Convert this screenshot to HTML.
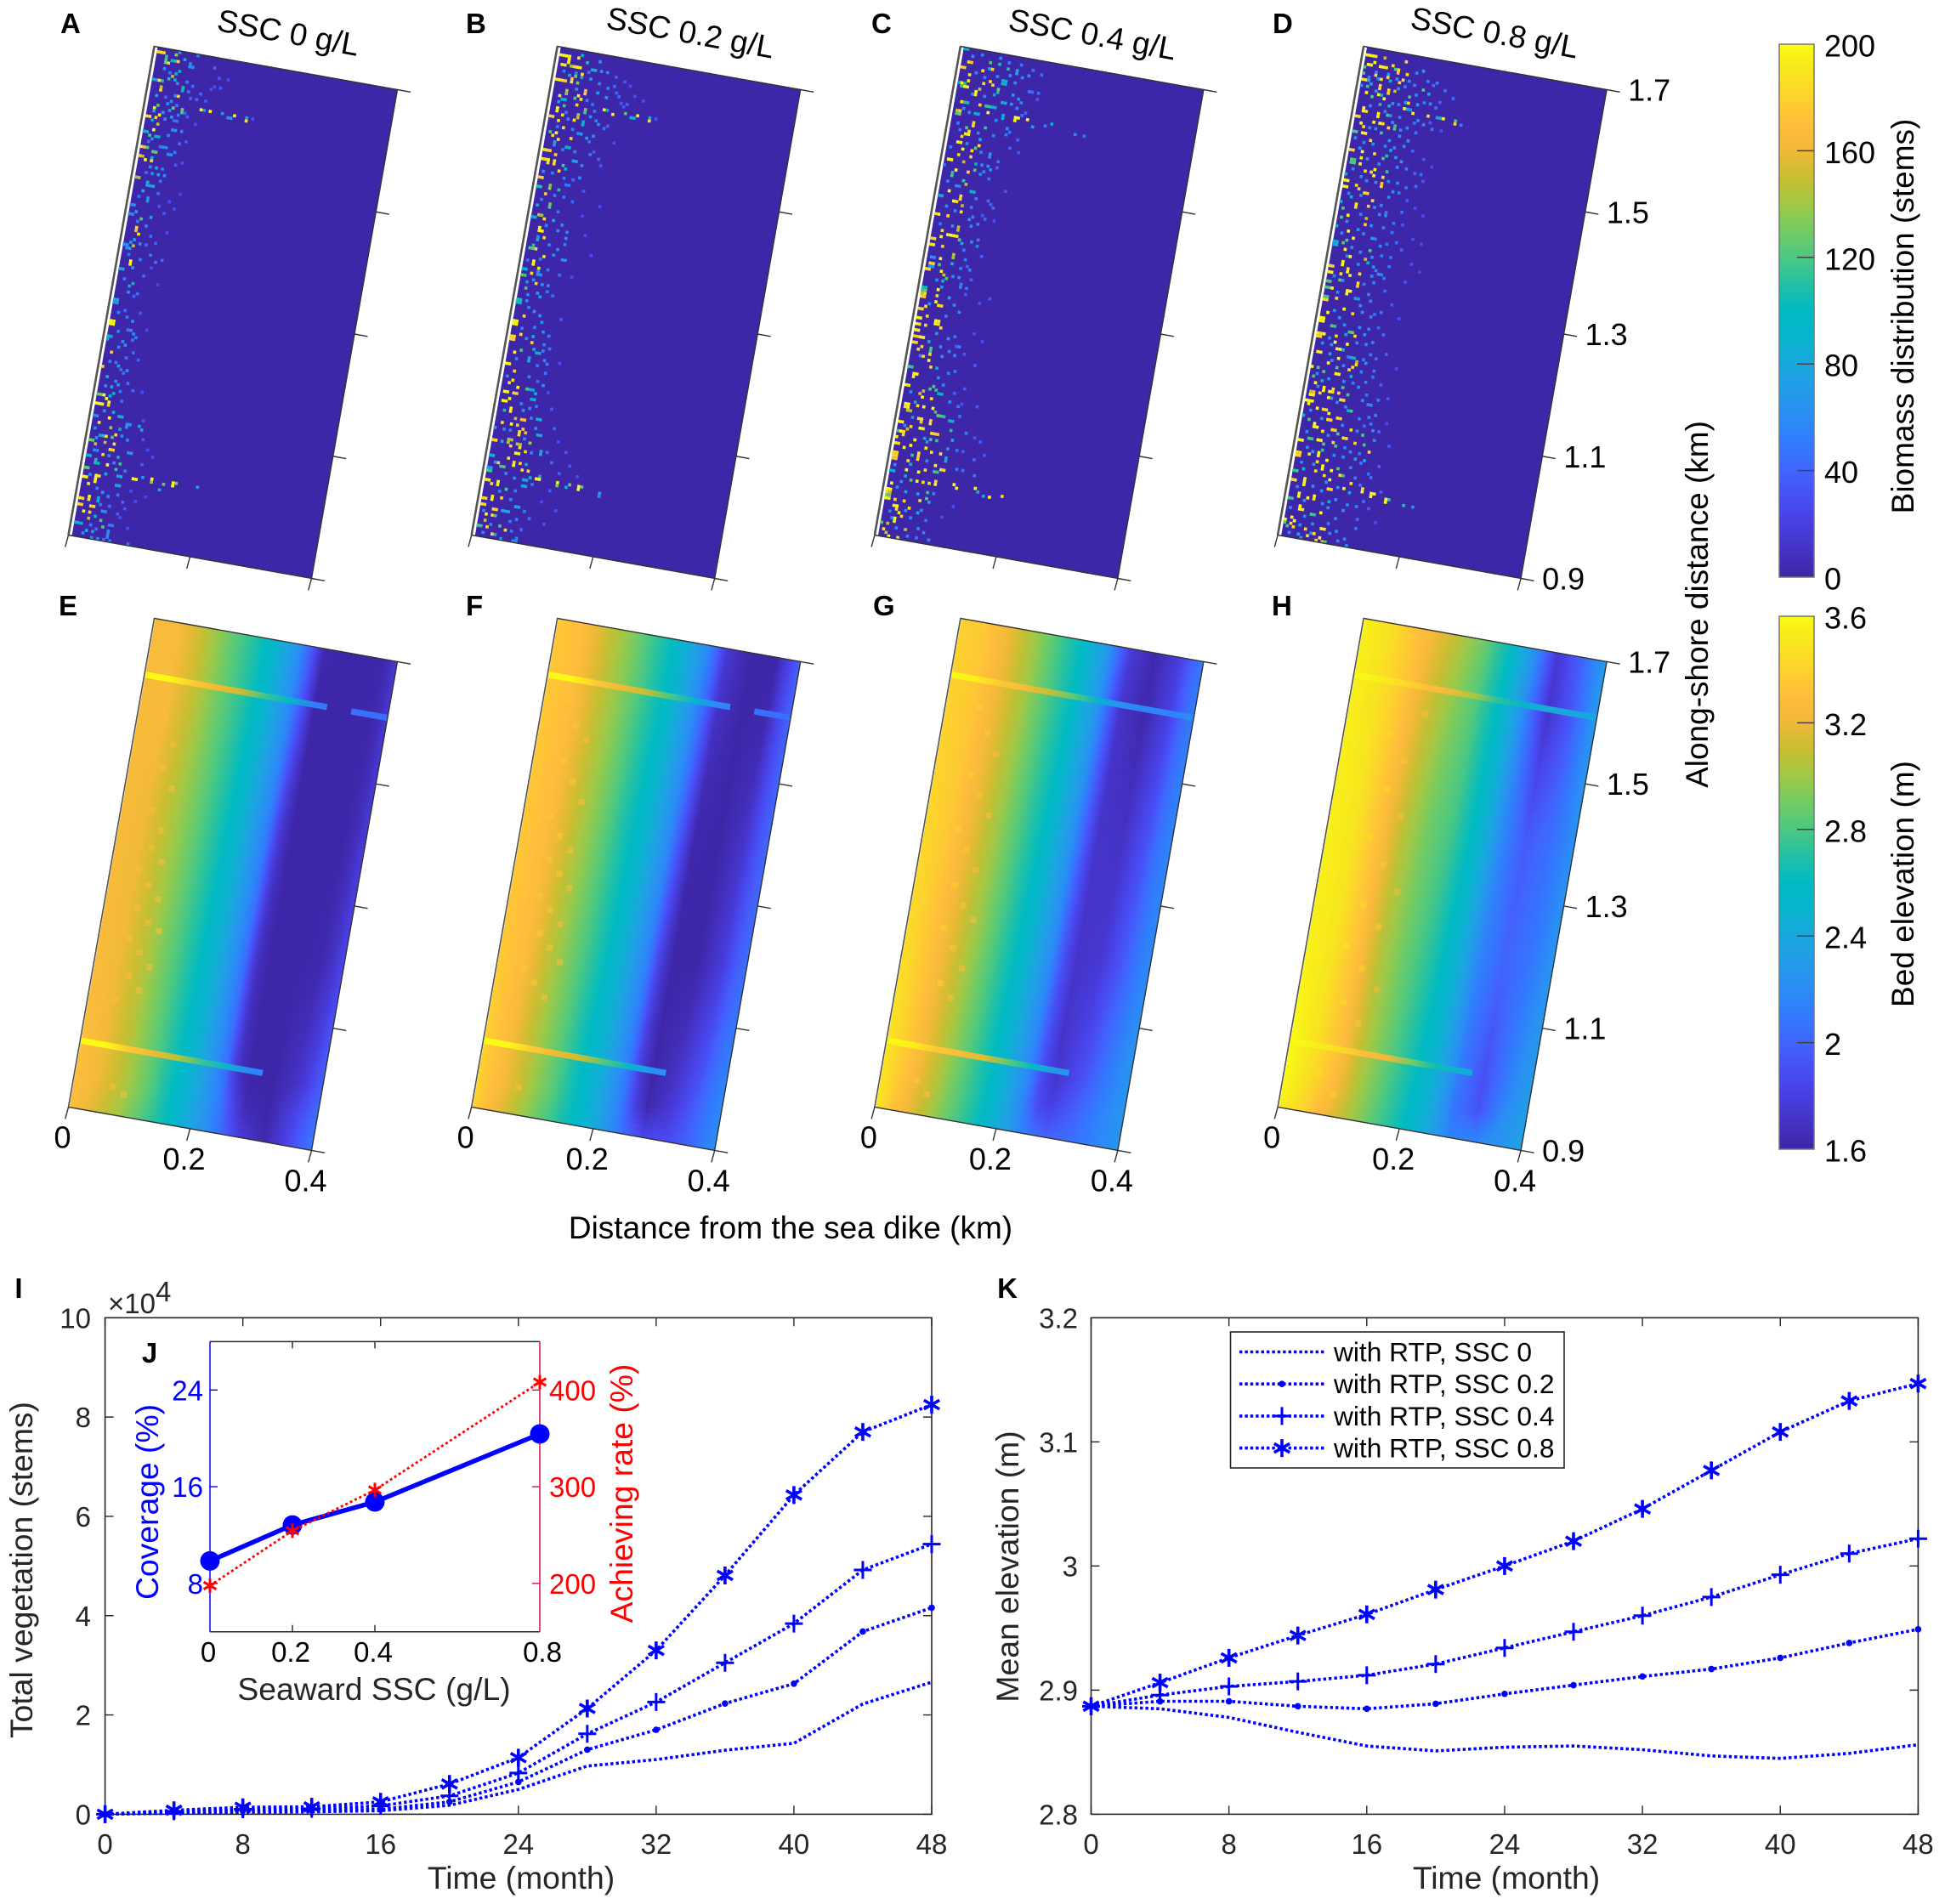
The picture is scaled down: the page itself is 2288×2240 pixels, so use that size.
<!DOCTYPE html>
<html lang="en">
<head>
<meta charset="utf-8">
<title>SSC biomass and bed elevation figure</title>
<style>
html,body{margin:0;padding:0;background:#fff;}
svg{display:block;}
text{font-family:"Liberation Sans",Arial,sans-serif;}
.m{font-size:36px;fill:#000;}
.mt{font-size:37px;fill:#000;}
.b{font-size:33px;font-weight:bold;fill:#000;}
.c{font-size:33px;fill:#262626;}
.t{font-size:37.3px;fill:#262626;}
</style>
</head>
<body>
<svg id="fig" xmlns="http://www.w3.org/2000/svg" width="2288" height="2240" viewBox="0 0 2288 2240">
<defs id="defs"></defs>
<rect width="2288" height="2240" fill="#fff"/>
<g id="maps"></g>
<g id="bars"></g>
<g id="chartI"></g>
<g id="chartJ"></g>
<g id="chartK"></g>

<text class="b" x="71" y="39">A</text>
<text class="b" x="548" y="39">B</text>
<text class="b" x="1025" y="39">C</text>
<text class="b" x="1497" y="39">D</text>
<text class="b" x="69" y="724">E</text>
<text class="b" x="548" y="724">F</text>
<text class="b" x="1027" y="724">G</text>
<text class="b" x="1496" y="724">H</text>
<text class="b" x="22" y="1527" text-anchor="middle">I</text>
<text class="b" x="176" y="1603" text-anchor="middle">J</text>
<text class="b" x="1185" y="1527" text-anchor="middle">K</text>

<text class="mt" text-anchor="middle" transform="translate(339,39) rotate(10.3)" y="12">SSC 0 g/L</text>
<text class="mt" text-anchor="middle" transform="translate(812,39) rotate(10.3)" y="12">SSC 0.2 g/L</text>
<text class="mt" text-anchor="middle" transform="translate(1285,41) rotate(10.3)" y="12">SSC 0.4 g/L</text>
<text class="mt" text-anchor="middle" transform="translate(1758,39) rotate(10.3)" y="12">SSC 0.8 g/L</text>

<text class="mt" x="930" y="1457" text-anchor="middle">Distance from the sea dike (km)</text>
<text class="mt" text-anchor="middle" transform="translate(2009,711) rotate(-90)">Along-shore distance (km)</text>
<text class="mt" text-anchor="middle" transform="translate(2251,372) rotate(-90)">Biomass distribution (stems)</text>
<text class="mt" text-anchor="middle" transform="translate(2251,1040) rotate(-90)">Bed elevation (m)</text>

<text class="t" x="613" y="2222" text-anchor="middle">Time (month)</text>
<text class="t" text-anchor="middle" transform="translate(38,1847) rotate(-90)">Total vegetation (stems)</text>
<text class="c" x="127" y="1545">×10<tspan dy="-14">4</tspan></text>
<text class="t" x="1772" y="2222" text-anchor="middle">Time (month)</text>
<text class="t" text-anchor="middle" transform="translate(1198,1843) rotate(-90)">Mean elevation (m)</text>
<text class="t" x="440" y="2000" text-anchor="middle">Seaward SSC (g/L)</text>
<text class="t" text-anchor="middle" transform="translate(186,1767) rotate(-90)" style="fill:#0000ff">Coverage (%)</text>
<text class="t" text-anchor="middle" transform="translate(744,1757) rotate(-90)" style="fill:#ff0000">Achieving rate (%)</text>
</svg>

<script>
/* ---------- chart data ---------- */
const alongTicks = [1.7, 1.5, 1.3, 1.1, 0.9];
const distTicks = [0, 0.2, 0.4];
const biomassBarTicks = [200, 160, 120, 80, 40, 0];
const bedBarTicks = [3.6, 3.2, 2.8, 2.4, 2, 1.6];

/* biomass cells: [column, row, stems] on the 80x160 grid */
const lowA = [[4,6,60],[6,7,50],[9,10,60],[12,9,55],[14,10,45],[6,15,45],[7,17,60],[8,16,55],[10,17,50],[6,20,70],[7,22,60],[11,20,50],[13,19,40],[3,30,45],[4,29,60],[7,31,50],[13,29,45],[5,38,60],[4,40,45],[9,46,45],[3,48,50],[10,50,35],[4,56,50],[7,57,55],[9,60,45],[6,63,60],[3,67,45],[7,68,50],[9,73,45],[3,75,55],[5,79,60],[3,86,55],[6,87,50],[8,88,60],[4,92,55],[9,92,60],[10,93,55],[5,97,60],[8,100,50],[3,102,55],[6,103,70],[9,104,60],[3,110,60],[10,108,50],[12,110,40],[4,118,60],[7,118,70],[2,124,55],[4,126,70],[13,126,55],[3,127,60],[8,132,60],[10,134,60],[14,136,55],[3,139,60],[6,143,55],[8,144,70],[10,145,60],[13,144,50],[15,146,45],[8,148,50],[11,148,45],[6,155,50],[8,156,45],[14,150,40],[4,158,55],[7,159,60]];
const lowB = [[3,7,55],[7,7,60],[11,6,50],[15,9,55],[18,10,60],[20,9,45],[22,12,45],[25,14,40],[8,12,60],[12,15,55],[14,16,50],[3,17,60],[6,20,55],[7,22,60],[15,18,50],[16,21,55],[19,23,45],[4,25,50],[9,25,55],[15,28,45],[4,31,60],[7,32,50],[11,32,55],[16,32,50],[5,40,55],[9,41,50],[12,41,45],[7,47,55],[10,47,50],[13,48,40],[3,49,50],[9,52,50],[6,57,55],[10,58,60],[4,61,60],[8,63,55],[10,66,60],[6,68,50],[2,69,45],[9,71,50],[13,72,45],[3,76,60],[8,76,60],[12,79,45],[4,80,55],[5,84,55],[7,85,60],[9,86,65],[10,88,60],[4,91,55],[11,91,60],[13,92,55],[6,94,60],[12,95,55],[14,96,50],[4,101,55],[11,102,50],[9,106,55],[14,104,50],[2,107,60],[12,107,45],[8,115,55],[11,116,60],[13,115,50],[9,117,60],[12,119,55],[14,122,60],[4,124,60],[6,124,55],[1,124,60],[11,126,60],[14,130,55],[19,129,45],[21,132,45],[3,135,60],[7,138,60],[10,139,65],[16,140,50],[11,143,55],[6,144,60],[10,146,60],[15,149,50],[17,151,45],[2,151,55],[11,153,50],[5,155,55],[12,156,50],[3,158,55]];
const lowC = [[4,2,60],[7,1,55],[13,1,60],[16,2,55],[20,2,50],[24,3,45],[27,4,45],[6,7,55],[13,7,60],[9,8,55],[19,8,60],[24,10,50],[27,10,45],[6,14,60],[10,14,55],[13,13,60],[19,12,65],[21,16,55],[23,18,50],[4,19,55],[6,20,60],[15,21,55],[19,23,60],[3,24,55],[4,26,50],[10,26,60],[15,26,55],[19,25,50],[21,29,40],[2,32,55],[7,30,60],[12,32,55],[15,32,60],[18,34,50],[13,36,60],[14,38,55],[16,40,50],[1,38,50],[3,43,55],[6,44,60],[7,44,50],[13,47,55],[17,47,45],[19,49,45],[4,51,60],[7,52,55],[12,50,50],[13,56,60],[15,55,55],[17,53,45],[3,57,50],[7,57,60],[14,61,60],[16,60,55],[16,62,55],[12,64,50],[13,67,55],[15,70,55],[12,70,55],[5,75,60],[7,77,65],[10,73,60],[13,75,55],[15,76,50],[12,82,60],[14,84,55],[4,83,60],[10,86,55],[8,92,65],[12,93,60],[14,92,50],[16,95,55],[11,99,60],[15,98,55],[4,100,55],[14,104,55],[16,103,50],[3,112,60],[11,106,60],[13,108,55],[16,113,60],[19,114,50],[5,120,60],[20,117,50],[23,122,50],[21,128,50],[3,123,60],[11,127,70],[18,128,60],[22,134,55],[2,136,60],[12,133,60],[5,141,60],[11,144,65],[16,143,55],[4,143,60],[8,150,60],[10,152,60],[13,149,55],[3,151,55],[15,152,50],[6,156,60],[10,158,55]];
const lowD = [[5,7,60],[9,7,65],[12,8,60],[16,8,60],[18,9,55],[22,7,55],[24,8,50],[3,9,55],[6,9,65],[13,11,60],[15,10,55],[19,12,60],[22,14,55],[26,15,50],[1,12,60],[6,13,70],[12,16,60],[14,16,55],[18,17,60],[5,18,60],[10,19,55],[12,20,60],[15,20,55],[20,21,50],[23,21,55],[26,22,50],[3,24,65],[6,25,60],[8,25,60],[13,22,60],[16,24,60],[18,23,55],[21,24,50],[2,29,60],[5,30,55],[8,30,60],[12,30,55],[15,30,60],[17,36,60],[20,36,55],[23,37,45],[25,37,45],[4,32,60],[7,35,60],[11,36,65],[15,41,55],[17,44,60],[19,44,55],[24,41,45],[3,39,60],[6,41,60],[8,42,55],[11,42,60],[3,47,55],[7,47,65],[12,50,60],[14,49,55],[16,51,50],[21,50,45],[8,53,60],[12,56,60],[16,56,55],[19,57,50],[4,56,60],[8,58,65],[10,59,60],[14,60,55],[18,61,50],[21,60,45],[3,60,60],[7,64,60],[10,65,60],[14,66,55],[17,65,50],[20,68,50],[6,67,60],[10,69,55],[15,69,60],[16,70,55],[18,71,55],[3,74,55],[6,75,60],[13,75,50],[15,78,55],[5,79,60],[11,80,65],[14,84,60],[17,85,55],[20,83,50],[5,85,60],[7,87,65],[9,89,60],[14,89,60],[17,89,55],[5,94,60],[10,92,65],[14,94,60],[17,94,55],[3,96,60],[6,96,70],[12,99,55],[17,99,55],[19,97,50],[7,101,60],[11,102,60],[17,103,55],[21,104,50],[3,106,60],[7,107,65],[12,107,60],[15,107,55],[19,112,60],[21,113,55],[24,111,55],[4,110,60],[11,114,60],[14,115,60],[19,118,55],[23,119,50],[26,121,45],[3,118,60],[7,120,65],[14,121,60],[19,122,55],[3,125,60],[10,125,60],[16,128,60],[18,129,55],[21,129,50],[4,130,60],[6,131,65],[13,131,60],[16,131,60],[22,132,55],[25,135,45],[7,135,60],[19,134,55],[3,135,60],[12,140,60],[16,141,60],[21,137,55],[23,139,55],[8,142,65],[11,143,60],[16,145,60],[20,146,60],[23,146,55],[25,144,50],[3,143,60],[6,147,65],[12,147,60],[14,148,60],[17,151,55],[2,150,60],[7,152,65],[15,153,55],[6,155,60],[10,154,65],[16,156,55],[19,158,55],[3,158,60],[7,159,60],[10,157,60]];
const cellsA = [
[1,1,175],[2,1,175],[3,1,170],[4,2,110],[4,3,120],[4,4,130],[6,3,90],[7,3,110],[8,3,170],[5,4,170],[7,1,140],[8,0,70],[14,0,60],[10,2,80],[12,3,60],[13,4,60],[12,4,70],
[9,6,90],[8,7,90],[7,8,150],[6,9,110],[8,9,80],[1,10,80],[2,10,70],[3,10,175],[4,10,110],[4,12,150],[4,13,170],[3,15,80],[11,11,110],[11,12,100],[10,14,170],[9,14,60],
[13,12,50],[17,12,45],[14,14,40],[4,18,120],[3,19,180],[3,20,90],[9,18,130],[8,19,60],[12,18,130],[12,19,120],[18,17,195],[19,17,80],[21,17,190],[25,17,60],[27,18,65],[28,18,70],[29,17,185],[33,17,90],[33,18,175],[35,17,30],
[1,22,180],[2,22,175],[5,21,175],[4,22,170],[3,23,90],[5,24,150],[4,26,195],[1,27,85],[2,27,90],[3,28,120],[6,28,100],[5,28,95],[11,25,60],[10,25,65],[13,25,55],[9,27,55],[9,21,70],[10,22,45],[11,22,45],
[1,32,175],[2,32,160],[3,32,120],[5,33,125],[6,33,125],[1,35,160],[2,35,150],[3,36,190],[5,35,90],[5,36,175],[9,31,60],[8,31,60],[11,33,60],[10,33,60],[12,32,50],[7,38,80],[8,40,80],[6,40,60],[9,38,55],[10,40,60],
[1,42,140],[2,42,145],[5,43,85],[5,44,80],[7,44,85],[6,44,80],[9,42,50],[4,46,85],[6,48,70],[6,49,70],[1,51,60],[2,51,60],[3,53,70],[1,54,60],[2,54,60],[5,55,120],[8,54,70],[4,58,170],[4,59,160],[5,60,180],
[4,62,70],[3,63,70],[1,64,60],[2,64,60],[4,64,150],[8,63,45],[11,62,40],[10,66,55],[3,65,85],[2,65,60],[12,68,50],[14,67,45],[4,69,190],[4,70,185],[1,72,80],[2,72,80],[5,71,60],[6,76,90],[5,77,70],[8,79,45],[7,80,40],
[1,82,80],[2,82,80],[1,83,70],[2,83,70],[5,85,45],[1,89,195],[2,89,195],[1,90,190],[2,90,190],[7,91,50],[8,91,55],[1,94,85],[2,94,85],[1,95,90],[6,95,60],[7,96,65],[9,94,50],[3,99,170],[10,98,45],[12,100,40],[5,102,50],[7,104,45],[1,104,170],[8,105,50],
[3,107,85],[6,108,60],[7,109,65],[5,110,70],[1,113,125],[2,113,130],[3,113,190],[5,113,90],[6,112,95],[8,111,50],[1,116,195],[2,116,195],[3,116,190],[5,115,190],[5,116,170],[4,114,190],[9,114,45],
[3,122,175],[6,120,195],[7,123,140],[1,120,60],[2,120,55],[9,119,85],[10,119,85],[12,121,60],[13,121,60],[12,122,60],[10,123,85],[16,121,80],[17,122,75],[6,126,180],[5,126,110],[9,125,175],[8,126,120],[11,125,55],
[1,128,130],[2,128,125],[3,129,150],[6,128,150],[9,128,175],[8,130,175],[9,130,170],[14,130,60],[15,130,65],[1,133,85],[2,133,80],[3,131,60],[4,131,55],[6,132,175],[4,134,110],[11,132,80],[4,135,105],[5,135,100],[8,135,190],[12,134,115],[11,136,115],[1,137,130],[2,137,125],[8,138,85],[6,139,175],[12,138,85],[13,138,85],
[1,140,195],[2,140,190],[3,142,180],[5,139,190],[5,140,190],[5,141,185],[12,141,85],[13,141,80],[17,138,195],[18,138,190],[20,137,70],[23,137,190],[23,138,140],[26,140,85],[27,138,125],[30,137,195],[30,138,190],[31,137,130],[38,137,75],
[4,146,185],[4,147,175],[1,147,175],[2,147,170],[1,149,175],[2,149,170],[5,149,170],[6,149,170],[7,146,85],[7,147,80],[9,150,60],[10,150,60],[3,151,195],[5,151,170],[5,153,145],[7,152,85],[9,153,120],[10,155,120],[1,155,85],[2,155,80],[3,155,85],[5,157,85],[7,157,80],[12,156,60],[12,157,60],[12,154,50],[13,154,50],[9,159,55],[12,158,55],[13,159,50],[11,159,50],[19,159,50],
[20,3,40],[22,6,35],[25,6,30],[21,9,30],[23,9,35],[20,10,30],[19,14,35],[16,14,40],[14,20,35],[17,22,30],[15,28,35],[13,36,35],[15,35,30],[16,45,25],[13,48,30],[12,52,35],[15,50,30],[14,58,30],[11,70,30],[14,75,25],[10,85,35],[13,90,30],[15,110,30],[17,119,30],[18,125,35],[20,128,30],[22,130,30],[19,133,35],[17,142,30],[16,148,35],[15,151,30],[19,145,30],[18,154,30],[22,143,25]
];
const cellsB = [
[1,2,190],[2,2,190],[3,2,195],[4,2,185],[7,2,180],[8,1,90],[4,3,190],[4,4,185],[3,5,180],[2,5,180],[5,5,140],[6,5,170],[7,5,190],[8,5,190],[10,3,110],[12,5,90],[13,5,85],[15,5,60],[17,5,60],[14,2,65],
[9,7,180],[7,8,130],[5,8,85],[6,9,170],[9,8,90],[8,10,130],[6,10,175],[12,8,60],[1,10,180],[2,10,185],[3,10,175],[4,10,170],[5,13,150],[5,14,140],[3,15,180],[4,16,90],[5,16,85],[11,12,160],[11,13,170],[9,14,185],[10,15,180],[8,15,120],[15,12,75],[18,13,70],
[3,19,190],[3,20,185],[5,18,120],[9,17,170],[12,18,130],[12,19,120],[10,20,140],[10,21,150],[18,17,195],[19,17,90],[21,18,190],[25,17,120],[27,18,85],[28,18,90],[29,17,185],[33,17,90],[33,18,175],[35,17,35],
[1,22,175],[2,22,170],[4,23,180],[5,21,175],[9,22,175],[12,22,85],[12,23,85],[14,20,60],[17,22,60],[2,27,120],[4,27,190],[6,25,175],[11,26,60],[12,26,65],[14,27,85],[16,26,60],[3,28,175],[5,29,175],[9,28,170],[4,30,85],[8,31,90],[9,31,85],
[1,33,180],[2,33,175],[3,33,170],[5,34,170],[1,36,180],[2,36,175],[3,36,185],[3,37,180],[5,36,180],[5,37,175],[8,37,120],[9,38,100],[7,39,170],[11,35,75],[12,35,70],[14,36,60],[2,40,60],[14,40,60],
[2,42,175],[1,42,170],[1,45,110],[2,45,110],[5,44,130],[5,45,140],[8,45,110],[10,43,50],[11,43,50],[4,47,170],[6,50,130],[6,51,120],[2,51,80],[1,55,85],[2,55,80],[3,54,150],[4,54,140],[5,55,175],[8,55,80],[11,56,60],[13,58,55],
[4,59,195],[5,59,190],[4,58,190],[6,61,170],[4,62,85],[3,64,110],[2,65,120],[3,65,125],[4,65,170],[11,64,60],[13,60,60],[13,62,55],[13,67,60],[14,67,60],[4,69,195],[4,70,190],[7,67,175],
[1,72,100],[2,72,100],[1,74,125],[2,74,120],[4,73,175],[6,71,175],[6,72,65],[7,73,65],[6,73,65],[5,75,60],[6,76,170],[3,78,120],[7,79,75],[8,80,70],[10,76,60],[10,78,55],[1,82,110],[2,82,105],[1,83,100],[2,83,105],[4,82,60],
[1,89,195],[2,89,195],[1,90,195],[2,90,190],[4,87,170],[9,86,60],[8,90,55],[1,94,170],[2,94,175],[1,95,170],[2,95,170],[4,93,175],[8,95,170],[8,93,85],[9,97,85],[10,98,85],[11,98,80],[12,97,55],[3,99,190],[5,98,120],[8,100,80],[8,101,80],[13,100,55],[14,101,55],
[1,103,190],[2,103,185],[4,105,170],[4,108,175],[3,109,175],[6,110,190],[9,110,120],[10,110,100],[11,110,90],[12,111,85],[11,113,85],[12,113,85],[14,108,60],[2,112,190],[3,112,190],[5,112,170],[6,112,170],[4,114,190],[2,115,190],[3,115,195],[5,117,190],[5,118,185],[3,118,110],
[14,119,85],[15,119,80],[9,120,160],[10,120,165],[7,120,150],[6,122,190],[3,122,175],[8,122,165],[10,123,165],[11,124,155],[9,125,180],[9,124,180],[15,124,85],[16,124,80],
[2,128,175],[1,128,170],[6,127,145],[7,127,140],[6,128,150],[9,128,150],[10,128,145],[7,129,170],[10,129,180],[13,127,140],[4,128,85],[17,129,85],[17,130,80],[9,131,195],[10,131,190],[12,130,170],[1,133,85],[2,133,85],[7,133,180],
[4,135,170],[9,134,175],[11,134,175],[13,134,90],[1,137,60],[2,137,70],[1,138,120],[2,138,115],[5,136,120],[6,136,125],[9,135,190],[12,136,175],[14,136,170],[15,138,85],[13,139,85],[14,139,80],[18,137,85],
[2,141,185],[1,141,180],[5,141,190],[5,142,190],[3,142,175],[17,138,195],[18,138,190],[24,138,190],[24,139,130],[27,139,85],[28,138,125],[31,138,195],[31,139,190],[32,138,125],[38,139,70],[38,140,60],[13,141,85],[14,141,80],[8,143,120],
[1,147,175],[2,147,170],[1,149,175],[2,149,170],[4,146,190],[4,147,190],[7,146,170],[5,150,170],[6,150,170],[8,150,80],[9,150,85],[10,150,80],[12,148,85],[13,148,80],[3,152,190],[5,152,175],[3,154,150],[6,152,120],[8,155,120],[10,156,175],[1,156,120],[2,156,115],[4,156,175],[6,158,175],[7,158,80],[14,158,55],[14,159,55],[13,159,60],[9,159,70],[13,152,50],[15,155,45],
[20,6,40],[23,7,35],[25,8,30],[21,11,40],[23,14,35],[27,11,30],[30,12,30],[24,15,35],[20,22,40],[23,27,30],[17,31,35],[19,33,40],[20,35,35],[16,44,35],[22,48,30],[17,52,30],[19,58,30],[22,64,30],[17,72,30],[16,86,35],[18,100,30],[16,110,30],[18,115,35],[20,121,40],[22,125,30],[25,128,35],[27,132,35],[24,135,40],[22,141,35],[20,145,30],[25,147,30],[30,135,30],[22,152,30]
];
const cellsC = [
[1,0,100],[2,0,90],[3,4,175],[4,4,160],[1,6,170],[2,6,170],[4,8,175],[8,6,175],[10,3,120],[11,5,170],[10,5,85],[13,3,110],[16,4,110],[19,4,85],[19,5,75],[23,5,60],[17,6,60],[21,6,60],
[2,11,190],[3,11,110],[3,12,190],[4,10,180],[4,12,195],[2,12,115],[1,11,90],[11,9,175],[9,10,175],[12,10,170],[14,11,130],[14,12,110],[15,8,90],[16,8,85],[15,9,85],[16,9,85],[7,13,190],[7,14,185],[8,12,145],[16,15,85],[17,15,75],[21,13,60],[19,15,60],[22,14,55],
[3,17,175],[4,17,110],[5,17,105],[9,17,170],[11,17,115],[12,17,115],[14,17,90],[2,20,150],[3,20,165],[2,21,120],[3,21,130],[8,20,85],[9,20,75],[12,19,195],[17,19,85],[17,20,85],[13,17,85],[21,19,195],[21,20,190],[22,19,190],[25,19,190],[27,21,80],[33,19,90],[41,21,55],[44,21,50],[31,20,50],
[8,23,170],[8,24,175],[7,26,175],[6,25,120],[12,24,115],[6,27,190],[7,27,185],[5,28,170],[4,30,185],[5,30,180],[11,30,175],[10,31,120],[11,28,85],[9,32,175],[6,32,190],[5,34,170],[9,34,170],[2,36,195],[3,36,190],[7,36,150],[11,36,100],[11,38,120],[13,39,60],[15,36,60],[16,37,65],
[5,39,195],[9,39,175],[4,41,120],[4,40,110],[9,43,150],[8,42,115],[11,45,85],[12,45,85],[4,46,190],[2,48,85],[1,48,80],[8,47,175],[8,48,170],[7,49,175],[6,49,195],[9,50,145],[2,54,190],[1,54,170],[5,54,175],[9,52,175],[12,54,60],[13,53,55],
[9,57,150],[9,58,140],[4,59,175],[10,61,120],[6,60,190],[7,60,195],[8,60,185],[9,60,180],[2,62,175],[1,62,170],[4,61,195],[11,62,85],[2,64,185],[1,64,180],[5,64,170],[9,66,150],[9,67,140],[5,68,190],[9,69,85],[2,68,60],[3,68,60],
[2,70,175],[3,70,170],[2,71,60],[3,71,65],[2,72,170],[1,72,175],[5,70,120],[6,72,190],[7,73,150],[8,74,120],[12,73,60],[13,76,55],[7,75,85],[6,78,190],[1,78,110],[2,78,100],[1,79,120],[2,79,130],[1,80,150],[2,80,175],[1,81,175],[2,81,170],[6,80,175],[6,82,190],[7,83,175],[8,83,170],[3,84,175],[10,80,85],
[2,85,175],[1,85,170],[4,87,170],[7,88,190],[8,88,185],[7,89,190],[8,89,175],[9,90,175],[2,88,190],[1,88,185],[4,90,175],[1,90,190],[2,90,175],[1,92,185],[2,92,190],[3,94,190],[4,94,185],[1,94,170],[2,94,165],[1,96,175],[2,96,170],[4,97,175],[3,98,170],[6,95,85],[7,97,120],[7,98,120],[7,99,175],[5,100,175],[10,96,60],[13,97,55],
[7,101,190],[8,103,170],[10,103,85],[1,104,120],[2,104,115],[3,106,190],[4,106,190],[3,107,185],[1,110,190],[2,110,185],[10,109,120],[11,110,115],[12,111,100],[6,112,150],[7,111,150],[7,113,190],[10,113,175],[13,111,85],[9,110,120],
[2,116,190],[3,116,195],[2,117,170],[3,117,190],[8,116,190],[11,116,190],[6,116,175],[5,115,85],[3,118,150],[4,118,145],[7,120,175],[8,120,185],[8,121,165],[11,120,170],[11,121,175],[12,117,115],[13,118,130],[14,118,120],[15,118,110],[17,119,85],[18,119,80],
[2,122,190],[1,122,185],[5,123,170],[4,124,150],[8,123,190],[9,123,185],[12,124,180],[13,124,170],[14,124,165],[18,122,110],[19,125,85],[1,125,120],[2,125,190],[3,125,175],[3,126,170],[1,127,185],[10,126,85],[12,126,120],[14,126,115],[7,127,190],
[11,129,185],[13,130,175],[9,131,175],[9,132,170],[4,130,190],[6,129,190],[7,132,115],[16,130,175],[18,131,85],[18,132,85],[1,129,175],[2,129,170],[1,132,170],[2,132,175],[1,133,175],[2,133,170],[1,134,160],[2,134,165],[9,133,175],[6,134,170],[15,134,190],[17,135,175],[18,135,170],
[7,135,85],[10,137,190],[12,136,175],[6,137,190],[15,136,120],[16,136,115],[2,138,85],[1,138,85],[16,139,170],[16,140,190],[22,139,195],[23,140,190],[14,140,175],[12,140,175],[10,140,190],[8,140,120],[6,139,85],[29,139,195],[30,140,85],[32,141,80],[34,141,195],[38,140,175],[2,142,190],
[1,144,190],[2,144,185],[1,145,170],[2,145,150],[1,146,130],[2,146,120],[1,147,190],[2,147,185],[4,147,170],[7,144,85],[7,147,170],[4,149,185],[5,149,190],[5,150,175],[6,151,180],[9,149,175],[14,143,115],[14,145,120],[12,146,175],[15,146,85],[12,150,85],
[5,153,190],[5,154,185],[1,155,120],[3,155,150],[7,152,170],[2,157,175],[3,158,150],[4,159,190],[7,159,175],[9,156,150],[4,153,60],[13,155,60],[15,156,55],[13,158,50],[17,158,55],
[25,10,40],[27,12,35],[24,17,40],[20,24,50],[23,26,40],[24,30,35],[15,33,60],[18,36,40],[22,43,35],[18,48,40],[16,52,35],[20,53,30],[18,65,40],[14,69,40],[16,73,40],[15,78,35],[20,80,30],[23,78,35],[20,90,30],[23,92,30],[15,95,40],[18,97,35],[22,100,35],[20,108,35],[17,110,40],[20,113,30],[25,113,35],[26,123,35],[23,128,35],[28,124,35],[27,130,40],[30,128,35],[24,134,45],[28,135,50],[23,146,30],[20,150,30]
];
const cellsD = [
[1,2,190],[2,2,190],[3,2,185],[4,2,180],[4,4,190],[2,5,190],[3,5,190],[6,5,190],[7,5,185],[8,5,180],[7,2,150],[10,4,175],[12,5,175],[12,6,170],[15,6,175],[11,5,120],[9,8,175],[5,8,175],[7,9,175],[10,9,85],[14,8,175],[13,9,170],[1,6,120],[1,8,120],[18,5,60],[20,4,75],[14,2,170],
[1,10,180],[2,10,175],[3,10,85],[4,11,85],[3,12,115],[7,11,170],[7,12,175],[10,12,175],[10,13,170],[3,14,195],[7,14,190],[9,15,190],[5,15,120],[8,14,85],[12,12,150],[17,13,120],[21,10,120],[23,11,80],[16,15,85],[17,15,175],[25,7,55],[28,9,50],[31,11,45],[20,15,70],[24,14,60],
[3,19,190],[3,20,190],[1,22,180],[2,22,175],[4,20,175],[8,20,190],[8,21,185],[11,17,85],[8,17,115],[11,20,120],[14,23,115],[14,24,120],[16,17,195],[17,17,85],[19,18,190],[24,18,175],[27,18,85],[28,18,90],[29,18,190],[33,18,120],[33,19,175],[35,19,50],[21,20,60],
[3,24,190],[4,27,190],[5,27,185],[1,27,120],[2,27,120],[4,25,175],[9,23,190],[10,23,175],[12,24,170],[7,23,190],[7,29,175],[10,26,120],[16,26,60],[19,27,70],[18,29,60],[13,28,60],
[1,33,175],[2,33,170],[5,33,190],[5,35,185],[9,33,175],[12,34,120],[13,33,110],[14,31,85],[16,33,70],[18,34,65],[2,36,125],[3,36,115],[2,37,120],[3,37,125],[5,37,190],[7,39,175],[10,38,190],[9,39,175],[10,40,190],[14,38,115],[13,40,175],
[1,41,85],[2,43,190],[1,43,185],[1,45,190],[2,45,185],[5,44,175],[6,45,170],[8,46,175],[9,46,170],[4,48,85],[6,50,185],[6,51,175],[11,48,175],[10,50,170],[13,43,175],[13,42,165],[18,41,60],[21,42,50],[16,46,60],
[1,50,85],[2,52,120],[4,54,190],[2,55,120],[10,54,150],[10,56,170],[14,52,60],[16,52,60],[19,54,50],[1,58,85],[5,59,190],[7,61,190],[1,63,85],[2,63,85],[1,64,70],[2,64,85],[4,63,125],[5,62,120],[5,65,190],[12,67,150],[13,68,85],[13,64,120],[13,60,85],[16,62,60],[20,65,50],
[5,69,195],[5,70,190],[7,67,190],[2,71,175],[1,71,170],[2,73,190],[1,73,185],[7,71,175],[7,72,190],[8,73,185],[5,73,175],[11,72,175],[15,72,60],[17,71,60],[16,74,55],[19,72,50],
[1,76,120],[2,76,120],[1,78,125],[2,78,120],[5,75,125],[11,75,175],[11,76,170],[9,78,190],[8,78,190],[8,79,190],[3,78,190],[1,82,175],[2,82,170],[1,81,120],[2,81,120],[5,81,175],[8,84,190],[11,85,175],[3,86,190],[1,89,195],[2,89,195],[1,88,190],[2,88,190],[12,80,60],[13,82,60],[16,80,55],
[5,90,120],[6,90,115],[11,91,120],[12,91,130],[13,92,175],[1,93,175],[2,93,175],[1,94,180],[2,94,170],[3,93,190],[7,95,190],[11,95,190],[8,97,190],[9,97,190],[10,97,85],[7,93,175],[16,91,60],[19,93,55],[22,90,45],
[2,99,190],[3,99,190],[6,99,85],[6,102,190],[9,100,190],[13,99,85],[14,99,85],[15,100,150],[15,101,175],[14,102,175],[13,103,175],[9,103,120],[18,100,60],[21,102,55],[1,104,190],[3,104,120],[5,105,120],[9,105,190],[10,105,190],[14,105,85],[2,107,120],[5,108,85],[17,108,60],[19,106,55],
[3,109,190],[6,110,190],[9,110,175],[9,111,170],[8,111,190],[12,109,120],[11,111,175],[12,113,175],[13,113,170],[14,111,120],[2,112,150],[3,112,155],[2,113,190],[3,113,185],[5,112,175],[6,111,190],[1,115,190],[2,115,195],[3,115,190],[2,116,190],[8,113,190],[9,113,85],[16,116,120],[15,116,85],[22,113,60],[24,116,60],
[1,120,85],[5,117,190],[7,117,175],[8,117,175],[9,120,175],[10,120,170],[12,119,175],[13,119,170],[9,118,190],[3,121,120],[5,122,190],[5,123,190],[6,123,190],[8,124,175],[11,123,175],[12,123,170],[13,124,120],[15,125,175],[16,125,170],[17,122,175],[21,123,120],[24,121,60],[25,124,60],
[1,128,190],[2,128,185],[4,127,120],[5,127,115],[7,127,190],[8,127,185],[9,128,120],[12,127,175],[13,128,120],[8,131,190],[8,132,185],[9,130,115],[19,126,175],[22,126,120],[24,128,175],[2,132,175],[1,132,175],[2,133,170],[1,133,170],[5,132,175],[8,134,175],[10,135,190],[10,136,190],[13,136,190],[15,135,120],[17,137,120],[11,133,190],[8,137,175],[20,131,85],[23,131,85],
[1,138,115],[2,138,120],[4,137,85],[11,138,175],[13,139,190],[16,137,175],[20,139,175],[2,141,175],[1,141,170],[5,140,190],[5,141,190],[5,142,190],[9,145,190],[13,142,175],[14,142,170],[18,141,195],[24,141,190],[24,140,175],[27,141,195],[28,141,190],[27,142,190],[32,142,195],[32,143,190],[33,142,115],[38,143,110],[41,143,60],[20,142,85],
[1,147,120],[2,147,115],[4,145,190],[4,146,190],[5,149,190],[5,150,190],[6,150,175],[7,146,190],[9,151,120],[10,151,115],[12,150,190],[9,146,175],[14,146,85],[19,148,65],[3,153,190],[4,154,190],[3,155,175],[1,155,120],[2,156,115],[1,154,190],[4,156,175],[8,156,175],[11,157,175],[13,155,190],[14,155,185],[13,158,190],[14,159,150],[15,159,120],[9,158,175],[6,158,85],[12,159,175],[18,155,60],[21,157,55],[22,159,60],[24,153,50],
[27,13,40],[25,20,35],[29,22,30],[21,30,40],[25,32,35],[28,34,30],[23,37,40],[26,39,35],[22,46,35],[25,48,30],[28,50,30],[22,54,35],[26,58,30],[29,59,25],[23,62,40],[27,66,30],[30,68,25],[26,72,35],[20,76,40],[23,80,35],[18,84,45],[26,84,30],[20,88,40],[24,96,40],[21,98,45],[28,100,30],[24,106,40],[20,110,50],[27,110,35],[22,117,55],[28,118,30],[21,120,45],[30,125,35],[28,132,40],[26,136,50],[30,140,40],[27,146,35],[24,150,40],[30,150,30]
];

/* bed elevation (m): rows follow elevAlongKm, columns follow elevCrossKm */
const elevCrossKm = [0, 0.04, 0.08, 0.12, 0.16, 0.2, 0.24, 0.26, 0.28, 0.32, 0.36, 0.38, 0.4];
const elevAlongKm = [1.7, 1.6, 1.4, 1.2, 1.0, 0.95, 0.9];
const elevE = [
[3.25,3.25,3.1,2.9,2.72,2.52,2.2,1.95,1.62,1.6,1.6,1.62,1.75],
[3.25,3.25,3.1,2.9,2.72,2.5,2.18,1.9,1.6,1.6,1.6,1.62,1.75],
[3.25,3.2,3.05,2.88,2.68,2.45,2.1,1.75,1.6,1.6,1.6,1.65,1.78],
[3.25,3.2,3.05,2.85,2.65,2.42,2.05,1.68,1.6,1.6,1.62,1.7,1.85],
[3.3,3.2,3.05,2.85,2.62,2.4,2.05,1.7,1.6,1.6,1.72,1.85,2.0],
[3.3,3.2,3.05,2.85,2.6,2.38,2.1,1.85,1.65,1.6,1.82,1.95,2.05],
[3.3,3.15,3.0,2.8,2.6,2.36,2.1,1.95,1.78,1.62,1.85,1.98,2.1]];
const elevF = [
[3.35,3.3,3.12,2.95,2.75,2.55,2.25,2.05,1.75,1.6,1.6,1.8,2.0],
[3.35,3.3,3.12,2.95,2.75,2.55,2.22,2.0,1.7,1.6,1.62,1.85,2.02],
[3.35,3.28,3.1,2.92,2.7,2.5,2.18,1.9,1.62,1.6,1.72,1.9,2.02],
[3.35,3.28,3.08,2.88,2.68,2.45,2.12,1.8,1.6,1.6,1.78,1.95,2.05],
[3.4,3.25,3.05,2.85,2.62,2.42,2.08,1.75,1.6,1.72,1.95,2.08,2.15],
[3.4,3.25,3.05,2.85,2.62,2.4,2.08,1.8,1.62,1.78,2.0,2.1,2.18],
[3.4,3.2,3.0,2.8,2.6,2.4,2.1,1.98,1.85,1.88,2.02,2.12,2.2]];
const elevG = [
[3.4,3.35,3.2,3.02,2.8,2.6,2.3,2.05,1.78,1.62,1.78,1.98,2.1],
[3.4,3.35,3.2,3.02,2.8,2.6,2.28,2.0,1.72,1.62,1.82,2.02,2.12],
[3.42,3.35,3.18,2.98,2.76,2.55,2.22,1.95,1.72,1.7,1.92,2.08,2.15],
[3.45,3.33,3.15,2.95,2.72,2.5,2.18,1.9,1.72,1.75,1.98,2.1,2.18],
[3.5,3.33,3.12,2.9,2.68,2.45,2.12,1.85,1.72,1.9,2.1,2.18,2.25],
[3.5,3.3,3.1,2.88,2.68,2.45,2.1,1.85,1.82,1.98,2.14,2.2,2.25],
[3.5,3.25,3.05,2.85,2.65,2.42,2.15,2.05,2.0,2.05,2.15,2.2,2.25]];
const elevH = [
[3.55,3.48,3.35,3.2,3.05,2.88,2.62,2.45,2.25,1.75,2.0,2.15,2.3],
[3.55,3.48,3.35,3.15,2.98,2.82,2.58,2.42,2.2,1.72,1.95,2.12,2.28],
[3.55,3.5,3.32,3.08,2.9,2.78,2.55,2.4,2.18,1.95,2.05,2.12,2.22],
[3.55,3.5,3.32,3.05,2.88,2.72,2.5,2.35,2.15,2.0,2.08,2.15,2.25],
[3.6,3.48,3.3,3.05,2.85,2.66,2.46,2.3,2.1,1.9,2.12,2.22,2.3],
[3.6,3.45,3.28,3.03,2.83,2.64,2.44,2.28,2.08,1.92,2.18,2.26,2.32],
[3.55,3.4,3.2,3.0,2.8,2.62,2.42,2.28,2.14,2.16,2.25,2.3,2.35]];

/* surface speckle: [column, row, metres] on the 80x160 grid */
const speckleE = [[8,30,3.3],[12,38,3.3],[10,46,3.3],[14,52,3.3],[9,60,3.3],[13,66,3.3],[11,72,3.3],[15,76,3.3],[8,80,3.3],[12,84,3.3],[16,88,3.3],[10,92,3.3],[14,96,3.3],[18,98,3.3],[9,102,3.3],[13,106,3.3],[17,110,3.3],[11,114,3.3],[15,118,3.3],[8,122,3.3],[12,150,3.3],[16,152,3.3]];
const speckleF = [[7,24,3.35],[11,32,3.35],[15,36,3.3],[9,44,3.35],[13,50,3.35],[17,56,3.3],[8,62,3.35],[12,68,3.35],[16,72,3.3],[10,76,3.35],[14,80,3.35],[18,84,3.3],[9,88,3.35],[13,92,3.35],[17,96,3.3],[11,100,3.35],[15,104,3.35],[19,108,3.3],[8,112,3.35],[12,116,3.35],[16,120,3.3],[13,150,3.3]];
const speckleG = [[10,26,3.4],[14,34,3.35],[18,40,3.3],[11,48,3.4],[15,54,3.35],[19,60,3.3],[10,66,3.4],[14,72,3.35],[18,78,3.3],[12,84,3.4],[16,90,3.35],[20,94,3.3],[11,98,3.4],[15,104,3.35],[19,110,3.3],[13,116,3.4],[17,120,3.3],[11,148,3.35],[15,152,3.3]];
const speckleH = [[12,12,3.4],[18,16,3.35],[24,26,3.3],[14,34,3.45],[20,42,3.35],[16,52,3.45],[22,60,3.3],[13,68,3.5],[19,76,3.35],[25,84,3.25],[15,90,3.45],[21,96,3.35],[12,104,3.5],[18,110,3.4],[24,116,3.25],[14,122,3.45],[20,128,3.35],[10,146,3.5],[16,152,3.4]];

/* creek profiles (m) at creekCrossKm; null means no creek there */
const creekCrossKm = [0, 0.04, 0.08, 0.12, 0.16, 0.2, 0.24, 0.28, 0.32, 0.36, 0.4];
const creekUpperKm = 1.608;
const creekLowerKm = 1.009;
const creekUpperE = [3.6,3.6,3.35,3.2,3.1,2.75,2.55,2.1,null,2.05,2.05];
const creekUpperF = [3.6,3.6,3.35,3.2,3.1,2.8,2.5,2.15,null,2.05,2.05];
const creekUpperG = [3.6,3.55,3.35,3.25,3.1,2.85,2.55,2.2,2.15,2.15,2.2];
const creekUpperH = [3.6,3.55,3.45,3.3,3.2,3.0,2.7,2.5,2.4,2.4,2.4];
const creekLowerE = [3.6,3.6,3.35,3.2,3.05,2.75,2.5,2.15,null,null,null];
const creekLowerF = [3.6,3.6,3.35,3.2,3.1,2.8,2.55,2.2,null,null,null];
const creekLowerG = [3.6,3.55,3.35,3.25,3.15,2.85,2.6,2.25,null,null,null];
const creekLowerH = [3.6,3.55,3.45,3.3,3.2,2.9,2.65,2.45,null,null,null];

/* line charts */
const months = [0,4,8,12,16,20,24,28,32,36,40,44,48];
const monthTicks = [0,8,16,24,32,40,48];
const vegTicks = [0,2,4,6,8,10];
const veg00 = [0,.02,.04,.05,.07,.18,.50,.97,1.10,1.29,1.43,2.22,2.66];
const veg02 = [0,.04,.07,.08,.10,.25,.65,1.30,1.70,2.23,2.63,3.68,4.16];
const veg04 = [0,.06,.10,.11,.17,.37,.83,1.62,2.26,3.05,3.84,4.92,5.44];
const veg08 = [0,.08,.14,.15,.25,.61,1.14,2.13,3.30,4.81,6.43,7.70,8.25];
const elevTicks = [2.8,2.9,3,3.1,3.2];
const mean00 = [2.887,2.885,2.878,2.866,2.855,2.851,2.854,2.855,2.852,2.847,2.845,2.849,2.856];
const mean02 = [2.887,2.891,2.891,2.887,2.885,2.889,2.897,2.904,2.911,2.917,2.926,2.938,2.949];
const mean04 = [2.887,2.896,2.903,2.907,2.912,2.921,2.934,2.947,2.96,2.975,2.993,3.01,3.022];
const mean08 = [2.887,2.906,2.926,2.944,2.961,2.981,3.0,3.02,3.046,3.077,3.108,3.133,3.147];
const legendLabels = ['with RTP, SSC 0','with RTP, SSC 0.2','with RTP, SSC 0.4','with RTP, SSC 0.8'];
const sscLevels = [0,0.2,0.4,0.8];
const sscTickLabels = ['0','0.2','0.4','0.8'];
const coverage = [9.86,12.83,14.74,20.36];
const achieving = [197.7,254.4,296.6,408.2];
const coverageTicks = [8,16,24];
const achievingTicks = [200,300,400];

/* ---------- helpers ---------- */
const NS = 'http://www.w3.org/2000/svg';
function mk(tag, attrs, parent) {
  const e = document.createElementNS(NS, tag);
  for (const k in attrs) e.setAttribute(k, attrs[k]);
  parent.appendChild(e);
  return e;
}
const defs = document.getElementById('defs');
const CMAP = [[0,62,38,168],[.05,68,50,195],[.1,72,62,225],[.15,72,78,245],[.2,65,100,253],[.25,50,122,253],[.3,42,142,245],[.35,35,155,232],[.4,25,168,222],[.45,8,180,205],[.5,0,187,195],[.55,35,192,165],[.6,75,200,130],[.65,115,203,100],[.7,160,200,70],[.75,200,190,50],[.8,240,185,55],[.85,255,190,60],[.9,253,210,45],[.95,247,230,30],[1,250,250,20]];
function cmap(t) {
  t = Math.max(0, Math.min(1, t));
  let i = 0;
  while (i < CMAP.length - 2 && t > CMAP[i + 1][0]) i++;
  const a = CMAP[i], b = CMAP[i + 1], f = (t - a[0]) / (b[0] - a[0]);
  return 'rgb(' + [1, 2, 3].map(k => Math.round(a[k] + (b[k] - a[k]) * f)).join(',') + ')';
}
const biomassColor = v => cmap(v / 200);
const CELL_GAIN = 1.06;
const bedColor = v => cmap((v - 1.6) / 2);

/* ---------- map panels ---------- */
const PANEL_X0 = 181.5, PANEL_PITCH = 474.2, ROW1_Y0 = 54.5, ROW2_Y0 = 727.4;
const EDGE_UX = 286, EDGE_UY = 51, EDGE_VX = -101, EDGE_VY = 575;
const uOfKm = km => km / 0.4;
const vOfKm = km => (1.7 - km) / 0.8;
const px = (x0, y0, u, v) => [x0 + u * EDGE_UX + v * EDGE_VX, y0 + u * EDGE_UY + v * EDGE_VY];
let gradId = 0;
const maps = document.getElementById('maps');

function frame(root, x0, y0, leftWidth, showLabels, showRight) {
  const corners = [[0,0],[1,0],[1,1],[0,1]].map(c => px(x0, y0, c[0], c[1]));
  const box = mk('polygon', {points: corners.map(c => c.join(',')).join(' '), fill: 'none', stroke: '#333', 'stroke-width': 1.4}, root);
  
  
  const l = mk('line', {x1: corners[0][0], y1: corners[0][1], x2: corners[3][0], y2: corners[3][1], stroke: '#555', 'stroke-width': leftWidth}, root);
  
  
  alongTicks.forEach(km => {
    const p = px(x0, y0, 1, vOfKm(km));
    const t = mk('line', {x1: p[0], y1: p[1], x2: p[0] + 15.5, y2: p[1] + 2.8, stroke: '#333', 'stroke-width': 1.4}, root);
    
    
    if (showRight) {
      const s = mk('text', {class: 'm', x: p[0] + 25, y: p[1] + 13}, root);
      s.textContent = String(km);
      
      
    }
  });
  distTicks.forEach(km => {
    const p = px(x0, y0, uOfKm(km), 1);
    const t = mk('line', {x1: p[0], y1: p[1], x2: p[0] - 3.8, y2: p[1] + 14, stroke: '#333', 'stroke-width': 1.4}, root);
    
    
    if (showLabels) {
      const s = mk('text', {class: 'm', x: p[0] - 7, y: p[1] + 48, 'text-anchor': 'middle'}, root);
      s.textContent = String(km);
      
      
    }
  });
}

[[cellsA, lowA], [cellsB, lowB], [cellsC, lowC], [cellsD, lowD]].forEach((set, i) => {
  const x0 = PANEL_X0 + i * PANEL_PITCH;
  const root = mk('g', {}, maps);
  
  
  const g = mk('g', {transform: 'matrix(' + [EDGE_UX, EDGE_UY, EDGE_VX, EDGE_VY, x0, ROW1_Y0].join(' ') + ')'}, root);
  const bg = mk('rect', {x: 0.014, y: 0, width: 0.986, height: 1, fill: biomassColor(0)}, g);
  
  
  set[1].concat(set[0]).forEach(c => {
    const r = mk('rect', {x: c[0] / 80, y: c[1] / 160, width: 1 / 80, height: 1 / 160, fill: biomassColor(c[2] > 150 ? c[2] * CELL_GAIN : c[2])}, g);
    
    
  });
  frame(root, x0, ROW1_Y0, 2.6, false, i === 3);
});

function elevAt(grid, uKm, aKm) {
  let ri = 0;
  while (ri < elevAlongKm.length - 2 && aKm < elevAlongKm[ri + 1]) ri++;
  const fr = Math.max(0, Math.min(1, (elevAlongKm[ri] - aKm) / (elevAlongKm[ri] - elevAlongKm[ri + 1])));
  let ci = 0;
  while (ci < elevCrossKm.length - 2 && uKm > elevCrossKm[ci + 1]) ci++;
  const fc = Math.max(0, Math.min(1, (uKm - elevCrossKm[ci]) / (elevCrossKm[ci + 1] - elevCrossKm[ci])));
  const a = grid[ri][ci] + (grid[ri][ci + 1] - grid[ri][ci]) * fc;
  const b = grid[ri + 1][ci] + (grid[ri + 1][ci + 1] - grid[ri + 1][ci]) * fc;
  return a + (b - a) * fr;
}
function creekStrip(g, profile, km) {
  const id = 'g' + (gradId++);
  const grad = mk('linearGradient', {id: id}, defs);
  profile.forEach((val, i) => {
    if (val === null) return;
    const off = creekCrossKm[i] / 0.4;
    if (i > 0 && profile[i - 1] === null) {
      const o0 = off - 0.05;
      mk('stop', {offset: o0, 'stop-color': bedColor(val), 'stop-opacity': 0}, grad);
      mk('stop', {offset: o0, 'stop-color': bedColor(val)}, grad);
    }
    mk('stop', {offset: off, 'stop-color': bedColor(val)}, grad);
    if (i < profile.length - 1 && profile[i + 1] === null) {
      const o1 = off + 0.05;
      mk('stop', {offset: o1, 'stop-color': bedColor(val)}, grad);
      mk('stop', {offset: o1, 'stop-color': bedColor(val), 'stop-opacity': 0}, grad);
    }
  });
  const h = 2 / 160;
  const r = mk('rect', {x: 0.004, y: vOfKm(km) - h / 2, width: 0.996, height: h, fill: 'url(#' + id + ')'}, g);
  
  
}
const ELEV_ROWS = 80, ELEV_STOPS = 50;
[[elevE, creekUpperE, creekLowerE, speckleE], [elevF, creekUpperF, creekLowerF, speckleF], [elevG, creekUpperG, creekLowerG, speckleG], [elevH, creekUpperH, creekLowerH, speckleH]].forEach((set, i) => {
  const x0 = PANEL_X0 + i * PANEL_PITCH;
  const root = mk('g', {}, maps);
  
  
  const g = mk('g', {transform: 'matrix(' + [EDGE_UX, EDGE_UY, EDGE_VX, EDGE_VY, x0, ROW2_Y0].join(' ') + ')'}, root);
  for (let r = 0; r < ELEV_ROWS; r++) {
    const aKm = 1.7 - (r + 0.5) / ELEV_ROWS * 0.8;
    const id = 'g' + (gradId++);
    const grad = mk('linearGradient', {id: id}, defs);
    for (let s = 0; s <= ELEV_STOPS; s++) {
      const f = s / ELEV_STOPS;
      mk('stop', {offset: f, 'stop-color': bedColor(elevAt(set[0], f * 0.4, aKm))}, grad);
    }
    const h = r < ELEV_ROWS - 1 ? 1.2 / ELEV_ROWS : 1 / ELEV_ROWS;
    const rect = mk('rect', {x: 0.004, y: r / ELEV_ROWS, width: 0.996, height: h, fill: 'url(#' + id + ')'}, g);
    
    
  }
  set[3].forEach(c => {
    const r = mk('rect', {x: c[0] / 80, y: c[1] / 160, width: 2 / 80, height: 2 / 160, fill: bedColor(c[2]), opacity: 0.55}, g);
    
    
  });
  creekStrip(g, set[1], creekUpperKm);
  creekStrip(g, set[2], creekLowerKm);
  frame(root, x0, ROW2_Y0, 1.4, true, i === 3);
});

/* ---------- colorbars ---------- */
const bars = document.getElementById('bars');
function colorbar(top, bottom, colorOf, vMin, vMax, ticks, name) {
  const yOf = v => bottom - (v - vMin) / (vMax - vMin) * (bottom - top);
  const id = 'g' + (gradId++);
  const grad = mk('linearGradient', {id: id, x1: 0, y1: 1, x2: 0, y2: 0}, defs);
  for (let s = 0; s <= 60; s++) {
    mk('stop', {offset: s / 60, 'stop-color': colorOf(vMin + (vMax - vMin) * s / 60)}, grad);
  }
  const r = mk('rect', {x: 2093, y: top, width: 41, height: bottom - top, fill: 'url(#' + id + ')', stroke: '#777', 'stroke-width': 1.5}, bars);
  
  
  ticks.forEach(v => {
    if (v !== vMin && v !== vMax) {
      const t = mk('line', {x1: 2114, x2: 2134, y1: yOf(v), y2: yOf(v), stroke: '#444', 'stroke-width': 1.5}, bars);
      
      
    }
    const s = mk('text', {class: 'm', x: 2146, y: yOf(v) + 14.5}, bars);
    s.textContent = String(v);
    
    
  });
}
colorbar(52, 679, biomassColor, 0, 200, biomassBarTicks, 'colorbar-biomass');
colorbar(725, 1352, bedColor, 1.6, 3.6, bedBarTicks, 'colorbar-elevation');

/* ---------- line charts ---------- */
const BLUE = '#0000ff';
function markerAt(root, kind, x, y, color, size, w) {
  if (kind === 'dot') {
    const c = mk('circle', {cx: x, cy: y, r: size, fill: color}, root);
    
    
  } else if (kind === 'plus') {
    const p = mk('path', {d: 'M' + (x - size) + ' ' + y + 'H' + (x + size) + 'M' + x + ' ' + (y - size) + 'V' + (y + size), stroke: color, 'stroke-width': w, fill: 'none'}, root);
    
    
  } else if (kind === 'star') {
    const dx = size * 0.87, dy = size * 0.5;
    const p = mk('path', {d: 'M' + x + ' ' + (y - size) + 'V' + (y + size) + 'M' + (x - dx) + ' ' + (y - dy) + 'L' + (x + dx) + ' ' + (y + dy) + 'M' + (x - dx) + ' ' + (y + dy) + 'L' + (x + dx) + ' ' + (y - dy), stroke: color, 'stroke-width': w, fill: 'none'}, root);
    
    
  }
}
function series(root, xs, ys, xf, yf, kind, color, width, dash, size, mw) {
  const pts = xs.map((x, i) => xf(x).toFixed(1) + ',' + yf(ys[i]).toFixed(1)).join(' ');
  const attrs = {points: pts, fill: 'none', stroke: color, 'stroke-width': width};
  if (dash) attrs['stroke-dasharray'] = dash;
  const l = mk('polyline', attrs, root);
  
  
  if (kind) xs.forEach((x, i) => markerAt(root, kind, xf(x), yf(ys[i]), color, size, mw));
}
function axesBox(root, L, T, R, B, xf, yf, xt, yt, yLabelRight) {
  const box = mk('rect', {x: L, y: T, width: R - L, height: B - T, fill: 'none', stroke: '#262626', 'stroke-width': 1.6}, root);
  
  
  xt.forEach(v => {
    const p = mk('path', {d: 'M' + xf(v) + ' ' + B + 'v-10M' + xf(v) + ' ' + T + 'v10', stroke: '#262626', 'stroke-width': 1.4}, root);
    
    
    const s = mk('text', {class: 'c', x: xf(v), y: 2181, 'text-anchor': 'middle'}, root);
    s.textContent = String(v);
    
    
  });
  yt.forEach(v => {
    const p = mk('path', {d: 'M' + L + ' ' + yf(v) + 'h10M' + R + ' ' + yf(v) + 'h-10', stroke: '#262626', 'stroke-width': 1.4}, root);
    
    
    const s = mk('text', {class: 'c', x: yLabelRight, y: yf(v) + 12, 'text-anchor': 'end'}, root);
    s.textContent = String(v);
    
    
  });
}

const LINE_W = 3.6, LINE_DASH = '3.4 3', MARK = 10.5;
const I_L = 123.6, I_R = 1096, PLOT_T = 1550.3, PLOT_B = 2134.4;
const xI = m => I_L + m / 48 * (I_R - I_L);
const yI = v => PLOT_B - v / 10 * (PLOT_B - PLOT_T);
const rootI = document.getElementById('chartI');
axesBox(rootI, I_L, PLOT_T, I_R, PLOT_B, xI, yI, monthTicks, vegTicks, 107);
series(rootI, months, veg00, xI, yI, null, BLUE, LINE_W, LINE_DASH);
series(rootI, months, veg02, xI, yI, 'dot', BLUE, LINE_W, LINE_DASH, 3.8, 0);
series(rootI, months, veg04, xI, yI, 'plus', BLUE, LINE_W, LINE_DASH, MARK, 3);
series(rootI, months, veg08, xI, yI, 'star', BLUE, LINE_W, LINE_DASH, MARK, 3.6);

const K_L = 1283.5, K_R = 2256.4;
const xK = m => K_L + m / 48 * (K_R - K_L);
const yK = v => PLOT_B - (v - 2.8) / 0.4 * (PLOT_B - PLOT_T);
const rootK = document.getElementById('chartK');
axesBox(rootK, K_L, PLOT_T, K_R, PLOT_B, xK, yK, monthTicks, elevTicks, 1268);
series(rootK, months, mean00, xK, yK, null, BLUE, LINE_W, LINE_DASH);
series(rootK, months, mean02, xK, yK, 'dot', BLUE, LINE_W, LINE_DASH, 3.8, 0);
series(rootK, months, mean04, xK, yK, 'plus', BLUE, LINE_W, LINE_DASH, MARK, 3);
series(rootK, months, mean08, xK, yK, 'star', BLUE, LINE_W, LINE_DASH, MARK, 3.6);

const legend = mk('g', {}, rootK);


const LEG_L = 1447.5, LEG_T = 1567, LEG_B = 1727, LEG_R = 1840, LEG_ROW = 37.7, LEG_Y0 = 1590.5;
const legBox = mk('rect', {x: LEG_L, y: LEG_T, width: LEG_R - LEG_L, height: LEG_B - LEG_T, fill: '#fff', stroke: '#262626', 'stroke-width': 1.6}, legend);


const legendMarkers = [null, 'dot', 'plus', 'star'];
legendLabels.forEach((label, i) => {
  const y = LEG_Y0 + i * LEG_ROW;
  const line = mk('line', {x1: 1458, x2: 1559, y1: y, y2: y, stroke: BLUE, 'stroke-width': LINE_W, 'stroke-dasharray': LINE_DASH}, legend);
  
  
  if (legendMarkers[i] === 'dot') markerAt(legend, 'dot', 1508, y, BLUE, 3.8, 0);
  if (legendMarkers[i] === 'plus') markerAt(legend, 'plus', 1508, y, BLUE, MARK, 3);
  if (legendMarkers[i] === 'star') markerAt(legend, 'star', 1508, y, BLUE, MARK, 3.6);
  const t = mk('text', {x: 1569, y: y + 11, 'font-size': 31.7, fill: '#000'}, legend);
  t.textContent = label;
  
  
});

/* inset J */
const J_L = 247, J_R = 635, J_T = 1578.4, J_B = 1919.7;
const xJ = v => J_L + v / 0.8 * (J_R - J_L);
const yCov = v => J_B - (v - 4) / 24 * (J_B - J_T);
const yAch = v => J_B - (v - 150) / 300 * (J_B - J_T);
const rootJ = document.getElementById('chartJ');
const jTop = mk('path', {d: 'M' + J_L + ' ' + J_T + 'H' + J_R + 'M' + J_L + ' ' + J_B + 'H' + J_R, stroke: '#262626', 'stroke-width': 1.5, fill: 'none'}, rootJ);


const jLeft = mk('line', {x1: J_L, x2: J_L, y1: J_T, y2: J_B, stroke: BLUE, 'stroke-width': 1.5}, rootJ);


const jRight = mk('line', {x1: J_R, x2: J_R, y1: J_T, y2: J_B, stroke: '#d0105a', 'stroke-width': 1.5}, rootJ);


sscLevels.forEach((v, i) => {
  if (v > 0 && v < 0.8) {
    const p = mk('path', {d: 'M' + xJ(v) + ' ' + J_B + 'v-8M' + xJ(v) + ' ' + J_T + 'v8', stroke: '#262626', 'stroke-width': 1.4}, rootJ);
    
    
  }
  const s = mk('text', {x: xJ(v) - 2 + (i === 3 ? 5 : 0), y: 1955, 'text-anchor': 'middle', 'font-size': 33, fill: '#000'}, rootJ);
  s.textContent = sscTickLabels[i];
  
  
});
coverageTicks.forEach(v => {
  const p = mk('line', {x1: J_L, x2: J_L + 9, y1: yCov(v), y2: yCov(v), stroke: BLUE, 'stroke-width': 1.4}, rootJ);
  
  
  const s = mk('text', {x: 239, y: yCov(v) + 12, 'text-anchor': 'end', 'font-size': 33, fill: BLUE}, rootJ);
  s.textContent = String(v);
  
  
});
achievingTicks.forEach(v => {
  const p = mk('line', {x1: J_R, x2: J_R - 9, y1: yAch(v), y2: yAch(v), stroke: '#d0105a', 'stroke-width': 1.4}, rootJ);
  
  
  const s = mk('text', {x: 646, y: yAch(v) + 12, 'font-size': 33, fill: '#ff0000'}, rootJ);
  s.textContent = String(v);
  
  
});
const covLine = mk('g', {}, rootJ);


series(covLine, sscLevels, coverage, xJ, yCov, null, BLUE, 5.5);
sscLevels.forEach((v, i) => {
  const c = mk('circle', {cx: xJ(v), cy: yCov(coverage[i]), r: 11.5, fill: BLUE}, covLine);
  
  
});
const achLine = mk('g', {}, rootJ);


series(achLine, sscLevels, achieving, xJ, yAch, 'star', '#ff0000', 2.8, '3 3', 8.5, 3);
</script>
</body>
</html>
